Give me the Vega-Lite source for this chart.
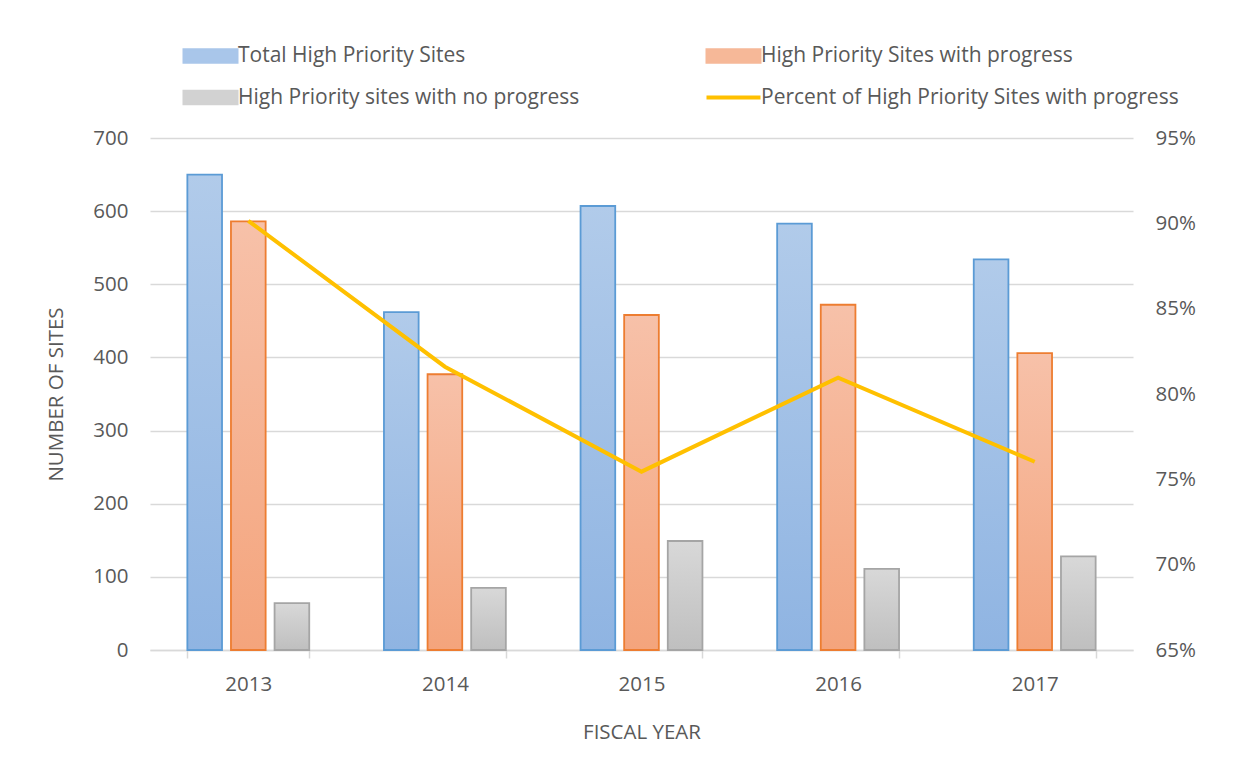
{
  "$schema": "https://vega.github.io/schema/vega-lite/v6.json",
  "width": 983,
  "height": 512,
  "autosize": {"type": "none"},
  "padding": {"left": 150, "top": 138, "right": 100, "bottom": 121},
  "background": "white",
  "config": {
    "font": "Open Sans",
    "view": {"stroke": null},
    "axis": {"labelColor": "#595959", "titleColor": "#595959", "labelFontSize": 20.5, "titleFontSize": 20.5, "titleFontWeight": "normal", "labelFont": "Open Sans", "titleFont": "Open Sans"}
  },
  "data": {
    "values": [
      {"year": "2013", "series": "Total High Priority Sites", "value": 650},
      {"year": "2013", "series": "High Priority Sites with progress", "value": 586},
      {"year": "2013", "series": "High Priority sites with no progress", "value": 64},
      {"year": "2013", "series": "Percent of High Priority Sites with progress", "value": 0.9015},
      {"year": "2014", "series": "Total High Priority Sites", "value": 462},
      {"year": "2014", "series": "High Priority Sites with progress", "value": 377},
      {"year": "2014", "series": "High Priority sites with no progress", "value": 85},
      {"year": "2014", "series": "Percent of High Priority Sites with progress", "value": 0.816},
      {"year": "2015", "series": "Total High Priority Sites", "value": 607},
      {"year": "2015", "series": "High Priority Sites with progress", "value": 458},
      {"year": "2015", "series": "High Priority sites with no progress", "value": 149},
      {"year": "2015", "series": "Percent of High Priority Sites with progress", "value": 0.7545},
      {"year": "2016", "series": "Total High Priority Sites", "value": 583},
      {"year": "2016", "series": "High Priority Sites with progress", "value": 472},
      {"year": "2016", "series": "High Priority sites with no progress", "value": 111},
      {"year": "2016", "series": "Percent of High Priority Sites with progress", "value": 0.8096},
      {"year": "2017", "series": "Total High Priority Sites", "value": 534},
      {"year": "2017", "series": "High Priority Sites with progress", "value": 406},
      {"year": "2017", "series": "High Priority sites with no progress", "value": 128},
      {"year": "2017", "series": "Percent of High Priority Sites with progress", "value": 0.7603}
    ]
  },
  "encoding": {
    "x": {
      "field": "year", "type": "nominal",
      "scale": {"paddingInner": 0.38, "paddingOuter": 0.19},
      "axis": {
        "title": "FISCAL YEAR", "labelAngle": 0, "labelPadding": 16, "titlePadding": 28,
        "domainColor": "#d9d9d9", "domainWidth": 1.5, "tickColor": "#d9d9d9", "tickWidth": 1.5,
        "tickSize": 8, "tickBand": "extent", "grid": false
      }
    }
  },
  "layer": [
    {
      "transform": [{"filter": "datum.series != 'Percent of High Priority Sites with progress'"}],
      "encoding": {
        "xOffset": {
          "field": "series", "type": "nominal",
          "scale": {"domain": ["Total High Priority Sites", "High Priority Sites with progress", "High Priority sites with no progress"], "paddingInner": 0.205, "paddingOuter": 0}
        },
        "y": {
          "field": "value", "type": "quantitative",
          "scale": {"domain": [0, 700]},
          "axis": {
            "title": "NUMBER OF SITES", "values": [0, 100, 200, 300, 400, 500, 600, 700],
            "domain": false, "ticks": false, "labelPadding": 22, "titlePadding": 26,
            "gridColor": "#d9d9d9", "gridWidth": 1.5
          }
        }
      },
      "layer": [
        {
          "mark": {"type": "bar", "strokeWidth": 2},
          "encoding": {
            "color": {
              "field": "series", "type": "nominal",
              "scale": {
                "domain": ["Total High Priority Sites", "High Priority Sites with progress", "High Priority sites with no progress", "Percent of High Priority Sites with progress"],
                "range": ["#a9c6ea", "#f6b898", "#d2d2d2", "#ffc000"]
              },
              "legend": {
                "title": null, "orient": "none", "direction": "horizontal", "legendX": 50, "legendY": -93, "columns": 2,
                "columnPadding": 118, "rowPadding": 19, "labelFontSize": 21, "labelColor": "#595959",
                "labelFont": "Open Sans", "labelOffset": 17, "symbolSize": 2916, "labelLimit": 600,
                "symbolStrokeWidth": 2,
                "encode": {
                  "symbols": {
                    "update": {
                      "shape": {"signal": "datum.value == 'Percent of High Priority Sites with progress' ? 'M-1,0H1' : 'M-1,-0.25H1V0.25H-1Z'"},
                      "fill": {"signal": "datum.value == 'Percent of High Priority Sites with progress' ? 'transparent' : scale('color', datum.value)"},
                      "stroke": {"signal": "datum.value == 'Total High Priority Sites' ? '#5b9bd5' : datum.value == 'High Priority Sites with progress' ? '#ed7d31' : datum.value == 'High Priority sites with no progress' ? '#a5a5a5' : '#ffc000'"},
                      "strokeWidth": {"signal": "datum.value == 'Percent of High Priority Sites with progress' ? 4 : 2"},
                      "opacity": {"value": 1},
                      "fillOpacity": {"value": 1},
                      "strokeOpacity": {"value": 1}
                    }
                  }
                }
              }
            }
          }
        },
        {
          "transform": [{"filter": "datum.series == 'Total High Priority Sites'"}],
          "mark": {"type": "bar", "strokeWidth": 1.8, "stroke": "#5b9bd5",
            "color": {"gradient": "linear", "x1": 0, "y1": 0, "x2": 0, "y2": 1, "stops": [{"offset": 0, "color": "#b1cbea"}, {"offset": 1, "color": "#8fb4e2"}]}},
          "encoding": {}
        },
        {
          "transform": [{"filter": "datum.series == 'High Priority Sites with progress'"}],
          "mark": {"type": "bar", "strokeWidth": 1.8, "stroke": "#ed7d31",
            "color": {"gradient": "linear", "x1": 0, "y1": 0, "x2": 0, "y2": 1, "stops": [{"offset": 0, "color": "#f7c1a9"}, {"offset": 1, "color": "#f4a47c"}]}},
          "encoding": {}
        },
        {
          "transform": [{"filter": "datum.series == 'High Priority sites with no progress'"}],
          "mark": {"type": "bar", "strokeWidth": 1.8, "stroke": "#a5a5a5",
            "color": {"gradient": "linear", "x1": 0, "y1": 0, "x2": 0, "y2": 1, "stops": [{"offset": 0, "color": "#d8d8d8"}, {"offset": 1, "color": "#bfbfbf"}]}},
          "encoding": {}
        }
      ]
    },
    {
      "transform": [{"filter": "datum.series == 'Percent of High Priority Sites with progress'"}],
      "mark": {"type": "line", "strokeWidth": 4},
      "encoding": {
        "y": {
          "field": "value", "type": "quantitative",
          "scale": {"domain": [0.65, 0.95], "zero": false},
          "axis": {
            "orient": "right", "title": null, "format": ".0%", "values": [0.65, 0.7, 0.75, 0.8, 0.85, 0.9, 0.95],
            "domain": false, "ticks": false, "grid": false, "labelPadding": 22
          }
        },
        "color": {"field": "series", "type": "nominal"}
      }
    }
  ],
  "resolve": {"scale": {"y": "independent"}}
}
